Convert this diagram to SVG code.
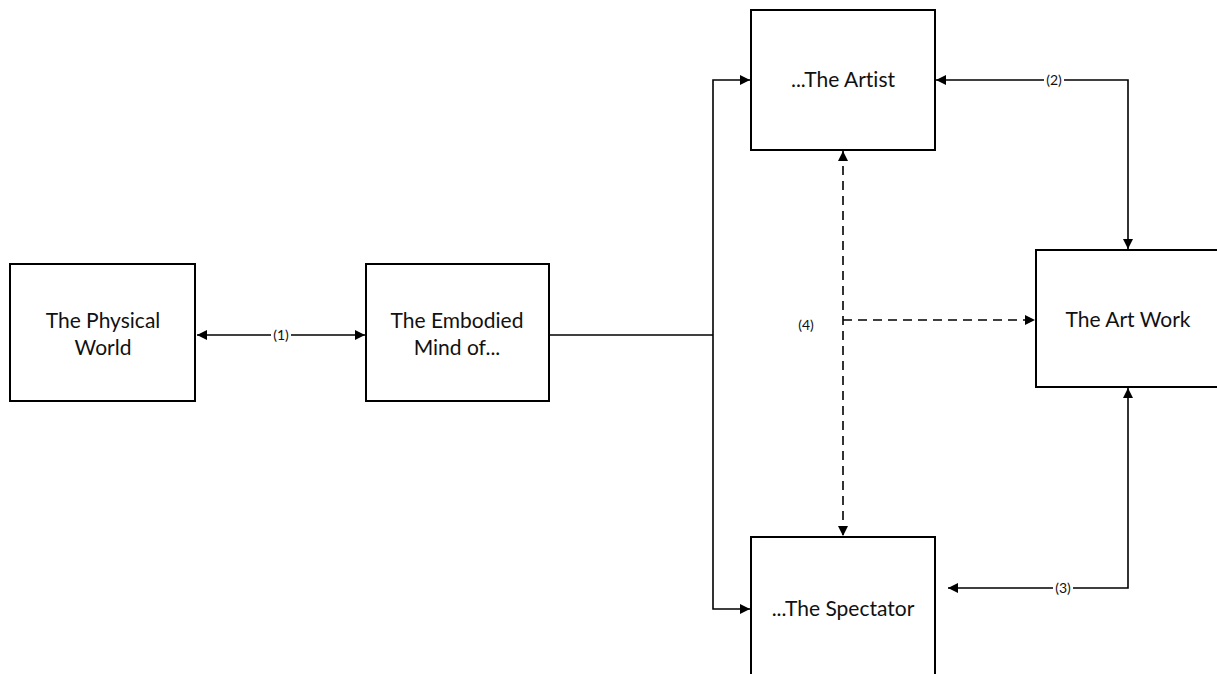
<svg xmlns="http://www.w3.org/2000/svg" width="1217" height="674" viewBox="0 0 1217 674">
<style>
.box{fill:#fff;stroke:#000;stroke-width:2}
.t{font-family:Lato,"Open Sans","Liberation Sans",sans-serif;font-size:21px;fill:#111;text-anchor:middle;font-variant-ligatures:none;font-feature-settings:"liga" 0}
.l{font-family:Lato,"Open Sans","Liberation Sans",sans-serif;font-size:14px;fill:#111;text-anchor:middle}
.c{fill:none;stroke:#000;stroke-width:1.6}
.d{fill:none;stroke:#000;stroke-width:1.6;stroke-dasharray:9,6}
</style>
<defs>
<marker id="ah" viewBox="0 0 10 10" refX="10" refY="5" markerWidth="10" markerHeight="10" markerUnits="userSpaceOnUse" orient="auto-start-reverse">
<path d="M0,0 L10,5 L0,10 z" fill="#000"/>
</marker>
</defs>
<rect width="1217" height="674" fill="#fff"/>
<g id="connectors">
<line class="c" x1="197" y1="335" x2="365" y2="335" marker-start="url(#ah)" marker-end="url(#ah)"/>
<polyline class="c" points="549,335 713,335"/>
<polyline class="c" points="750,80 713,80 713,609 750,609" marker-start="url(#ah)" marker-end="url(#ah)"/>
<polyline class="c" points="936,80 1128,80 1128,249" marker-start="url(#ah)" marker-end="url(#ah)"/>
<polyline class="c" points="1128,388 1128,588 948,588" marker-start="url(#ah)" marker-end="url(#ah)"/>
<line class="d" x1="843" y1="151" x2="843" y2="536" marker-start="url(#ah)" marker-end="url(#ah)"/>
<line class="d" x1="843" y1="320" x2="1035" y2="320" marker-end="url(#ah)"/>
<rect x="271" y="326" width="20" height="18" fill="#fff"/>
<text class="l" x="281" y="340">(1)</text>
<rect x="1044" y="71" width="20" height="18" fill="#fff"/>
<text class="l" x="1054" y="85">(2)</text>
<rect x="1053" y="579" width="20" height="18" fill="#fff"/>
<text class="l" x="1063" y="593">(3)</text>
<text class="l" x="806" y="330">(4)</text>
</g>
<g id="physical"><rect class="box" x="10" y="264" width="185" height="137"/><text class="t" x="103" y="328">The Physical</text><text class="t" x="103" y="355">World</text></g>
<g id="embodied"><rect class="box" x="366" y="264" width="183" height="137"/><text class="t" x="457" y="328">The Embodied</text><text class="t" x="457" y="355">Mind of...</text></g>
<g id="artist"><rect class="box" x="751" y="10" width="184" height="140"/><text class="t" x="843" y="87">...The Artist</text></g>
<g id="spectator"><path class="box" d="M751,676 L751,537 L935,537 L935,676"/><text class="t" x="843" y="616">...The Spectator</text></g>
<g id="artwork"><path class="box" d="M1219,250 L1036,250 L1036,387 L1219,387"/><text class="t" x="1128" y="327">The Art Work</text></g>
</svg>
